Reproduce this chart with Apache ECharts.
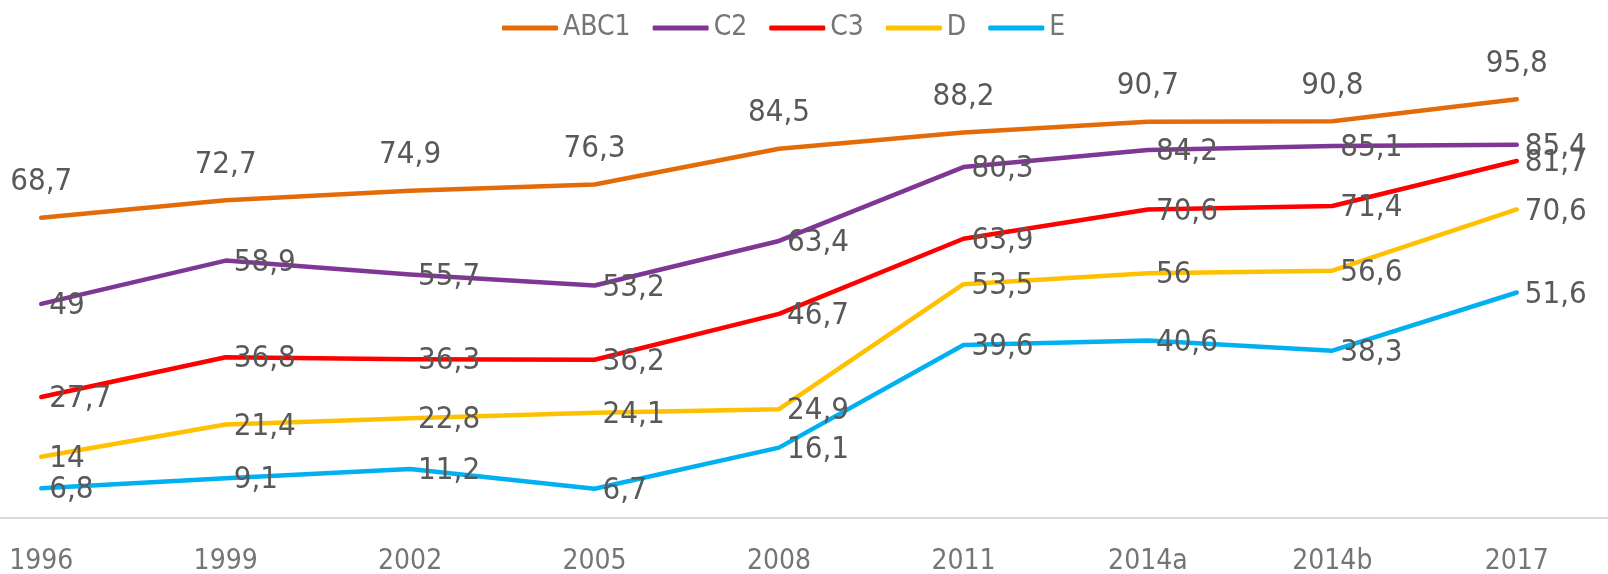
<!DOCTYPE html>
<html>
<head>
<meta charset="utf-8">
<script src="https://cdn.jsdelivr.net/npm/echarts@6/dist/echarts.min.js"></script>
<style>
  html, body { margin: 0; padding: 0; background: #fff; }
  #myChart { width: 1608px; height: 574px; }
</style>
</head>
<body>
<div id="myChart"></div>
<script>
// 数据
var years = ['1996', '1999', '2002', '2005', '2008', '2011', '2014a', '2014b', '2017'];
var seriesNames = ['ABC1', 'C2', 'C3', 'D', 'E'];
var abc1 = [68.7, 72.7, 74.9, 76.3, 84.5, 88.2, 90.7, 90.8, 95.8];
var c2 = [49, 58.9, 55.7, 53.2, 63.4, 80.3, 84.2, 85.1, 85.4];
var c3 = [27.7, 36.8, 36.3, 36.2, 46.7, 63.9, 70.6, 71.4, 81.7];
var d = [14, 21.4, 22.8, 24.1, 24.9, 53.5, 56, 56.6, 70.6];
var e = [6.8, 9.1, 11.2, 6.7, 16.1, 39.6, 40.6, 38.3, 51.6];
var colors = ['#E36C09', '#7E3794', '#FF0000', '#FFC000', '#00B0F0'];

var FONT = "'Liberation Sans Narrow', 'DejaVu Sans Condensed', 'DejaVu Sans', sans-serif";

var myChart = echarts.init(document.getElementById('myChart'));

function makeSeries(name, data, color, pos) {
    return {
        name: name,
        type: 'line',
        data: data,
        symbol: 'circle',
        symbolSize: 0,
        showSymbol: true,
        color: color,
        lineStyle: {
            color: color,
            width: 4.5,
            cap: 'round',
            join: 'round'
        },
        label: {
            show: true,
            position: pos,
            distance: pos == 'top' ? 20 : 8,
            offset: pos == 'top' ? [0, 0] : [0, 2],
            fontFamily: FONT,
            fontSize: 31,
            color: '#595959',
            formatter: function (p) {
                return String(p.value).replace('.', ',');
            }
        },
        emphasis: { disabled: true }
    };
}

var option = {
    animation: false,
    backgroundColor: '#fff',
    color: colors,
    legend: {
        left: 497,
        top: 9,
        itemWidth: 56,
        itemHeight: 5,
        itemGap: 22,
        icon: 'roundRect',
        data: seriesNames,
        textStyle: {
            fontFamily: FONT,
            fontSize: 28,
            color: '#757575'
        }
    },
    grid: {
        left: -51,
        right: -1,
        top: 81,
        bottom: 56,
        containLabel: false,
        outerBoundsMode: 'none'
    },
    xAxis: {
        type: 'category',
        boundaryGap: true,
        data: years,
        axisTick: { show: false },
        axisLine: {
            lineStyle: { color: '#d9d9d9', width: 2 }
        },
        axisLabel: {
            margin: 30,
            fontFamily: FONT,
            fontSize: 28,
            color: '#757575'
        }
    },
    yAxis: {
        type: 'value',
        min: 0,
        max: 100,
        show: false
    },
    series: [
        makeSeries('ABC1', abc1, colors[0], 'top'),
        makeSeries('C2', c2, colors[1], 'right'),
        makeSeries('C3', c3, colors[2], 'right'),
        makeSeries('D', d, colors[3], 'right'),
        makeSeries('E', e, colors[4], 'right')
    ]
};

myChart.setOption(option);
</script>
</body>
</html>
